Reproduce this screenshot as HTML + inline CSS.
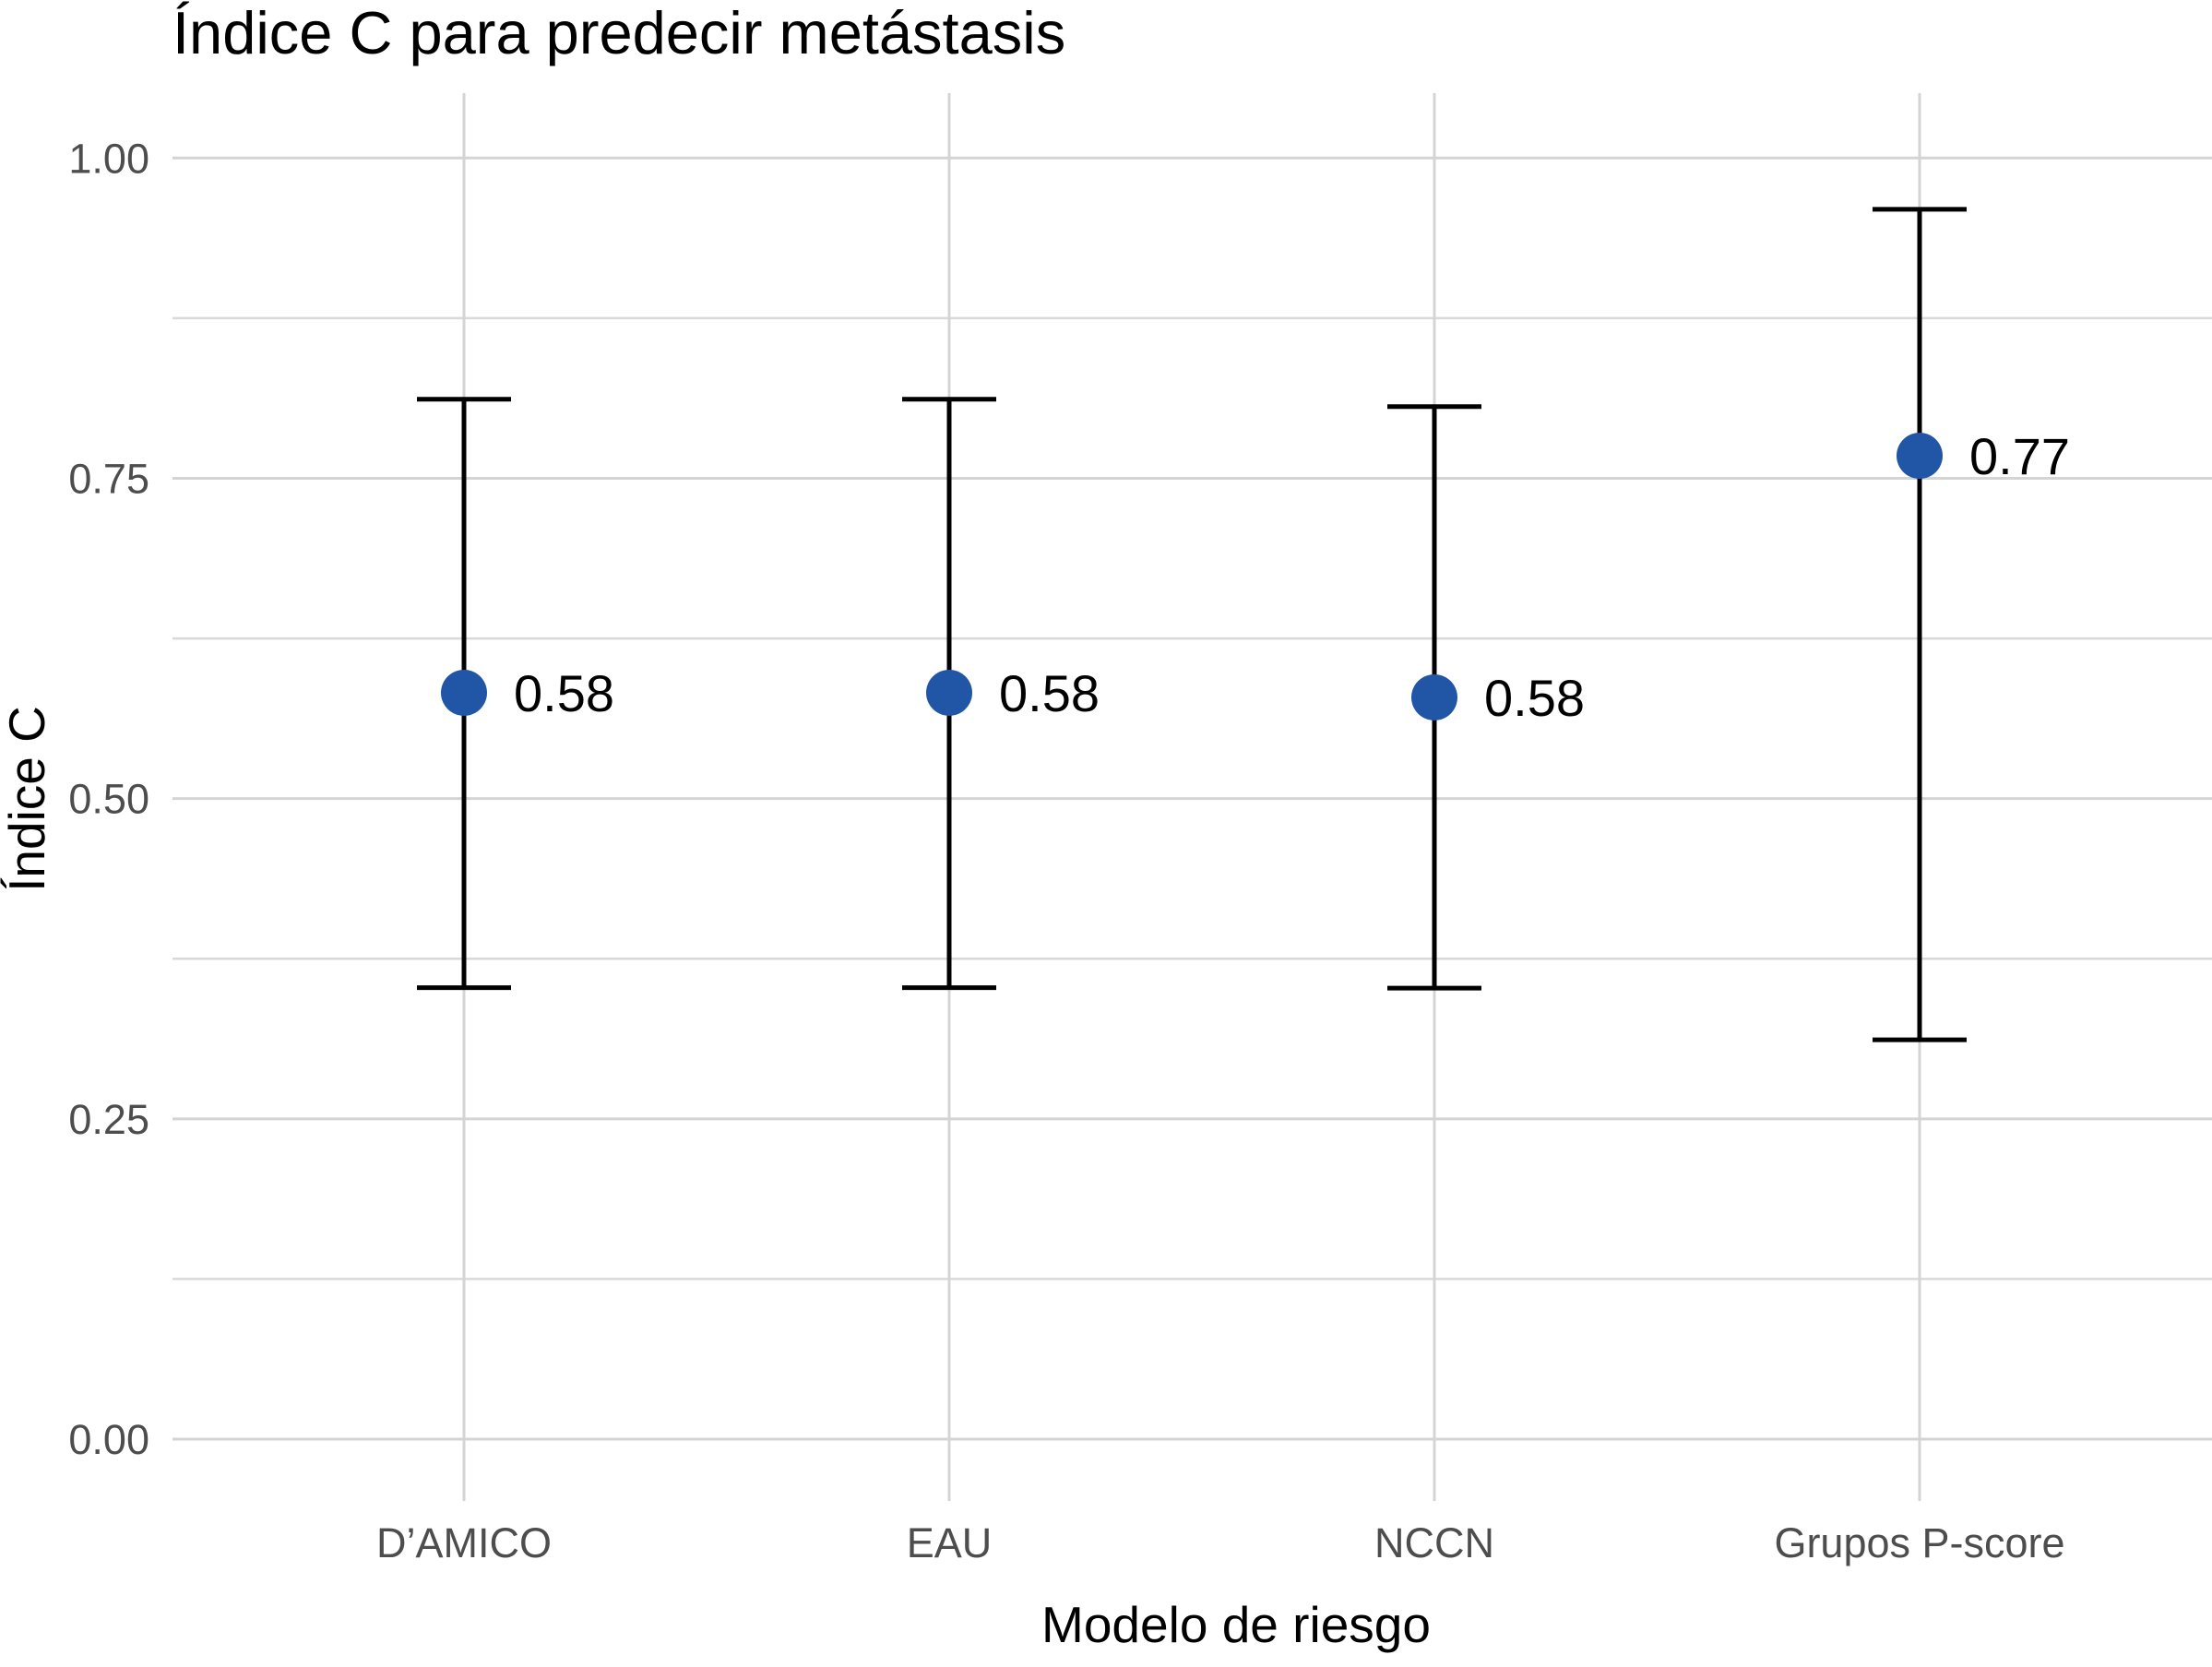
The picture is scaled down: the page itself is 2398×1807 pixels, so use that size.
<!DOCTYPE html>
<html><head><meta charset="utf-8">
<style>
html,body{margin:0;padding:0;background:#fff;}
svg{display:block;font-family:"Liberation Sans",Arial,sans-serif;}
</style></head>
<body>
<svg id="chart" width="2398" height="1807" viewBox="0 0 2398 1807">
<text x="187" y="58" font-size="65" fill="#000">Índice C para predecir metástasis</text>
<g id="grid"></g>
<g id="marks"></g>
<text x="1340" y="1780" font-size="55" text-anchor="middle" fill="#000">Modelo de riesgo</text>
<text transform="translate(48,866) rotate(-90)" font-size="55" text-anchor="middle" fill="#000">Índice C</text>
</svg>
<script>
const categories = ["D\u2019AMICO","EAU","NCCN","Grupos P-score"];
const cIndex = [0.5826,0.5826,0.579,0.7676];
const lower = [0.3524,0.3524,0.352,0.3117];
const upper = [0.8117,0.8117,0.806,0.960];
const labels = ["0.58","0.58","0.58","0.77"];
const yTicks = [0,0.25,0.5,0.75,1.0];
const yTickLabels = ["0.00","0.25","0.50","0.75","1.00"];

const NS="http://www.w3.org/2000/svg";
const panelL=187, panelR=2398, panelT=101, panelB=1627;
const y0px=1560, y1px=171.3;
function yScale(v){return y0px+(y1px-y0px)*v;}
function xScale(i){return 503+i*526;}
function mk(tag,attrs,parent){const e=document.createElementNS(NS,tag);for(const k in attrs)e.setAttribute(k,attrs[k]);parent.appendChild(e);return e;}
const grid=document.getElementById('grid'), marks=document.getElementById('marks');
for(let i=0;i<yTicks.length-1;i++){
  const v=(yTicks[i]+yTicks[i+1])/2;
  const l=mk('line',{x1:panelL,x2:panelR,y1:yScale(v),y2:yScale(v),stroke:'#d9d9d9','stroke-width':2.5},grid);
  
  
}
yTicks.forEach((v,i)=>{
  const l=mk('line',{x1:panelL,x2:panelR,y1:yScale(v),y2:yScale(v),stroke:'#d4d4d4','stroke-width':3},grid);
  
  
  const t=mk('text',{x:162,y:yScale(v)+16,'font-size':45,'text-anchor':'end',fill:'#4d4d4d'},grid);
  t.textContent=yTickLabels[i];
  
  
});
categories.forEach((c,i)=>{
  const x=xScale(i);
  const l=mk('line',{x1:x,x2:x,y1:panelT,y2:panelB,stroke:'#d4d4d4','stroke-width':3},grid);
  
  
  const t=mk('text',{x:x,y:1688,'font-size':45,'text-anchor':'middle',fill:'#4d4d4d'},grid);
  t.textContent=c;
  
  
  const g=mk('g',{},marks);
  
  
  mk('line',{x1:x,x2:x,y1:yScale(lower[i]),y2:yScale(upper[i]),stroke:'#000','stroke-width':5},g);
  mk('line',{x1:x-51,x2:x+51,y1:yScale(upper[i]),y2:yScale(upper[i]),stroke:'#000','stroke-width':5},g);
  mk('line',{x1:x-51,x2:x+51,y1:yScale(lower[i]),y2:yScale(lower[i]),stroke:'#000','stroke-width':5},g);
  const p=mk('circle',{cx:x,cy:yScale(cIndex[i]),r:25,fill:'#2155a6'},marks);
  
  
  const vt=mk('text',{x:x+54,y:yScale(cIndex[i])+20,'font-size':56,fill:'#000'},marks);
  vt.textContent=labels[i];
  
  
});
</script>
</body></html>
